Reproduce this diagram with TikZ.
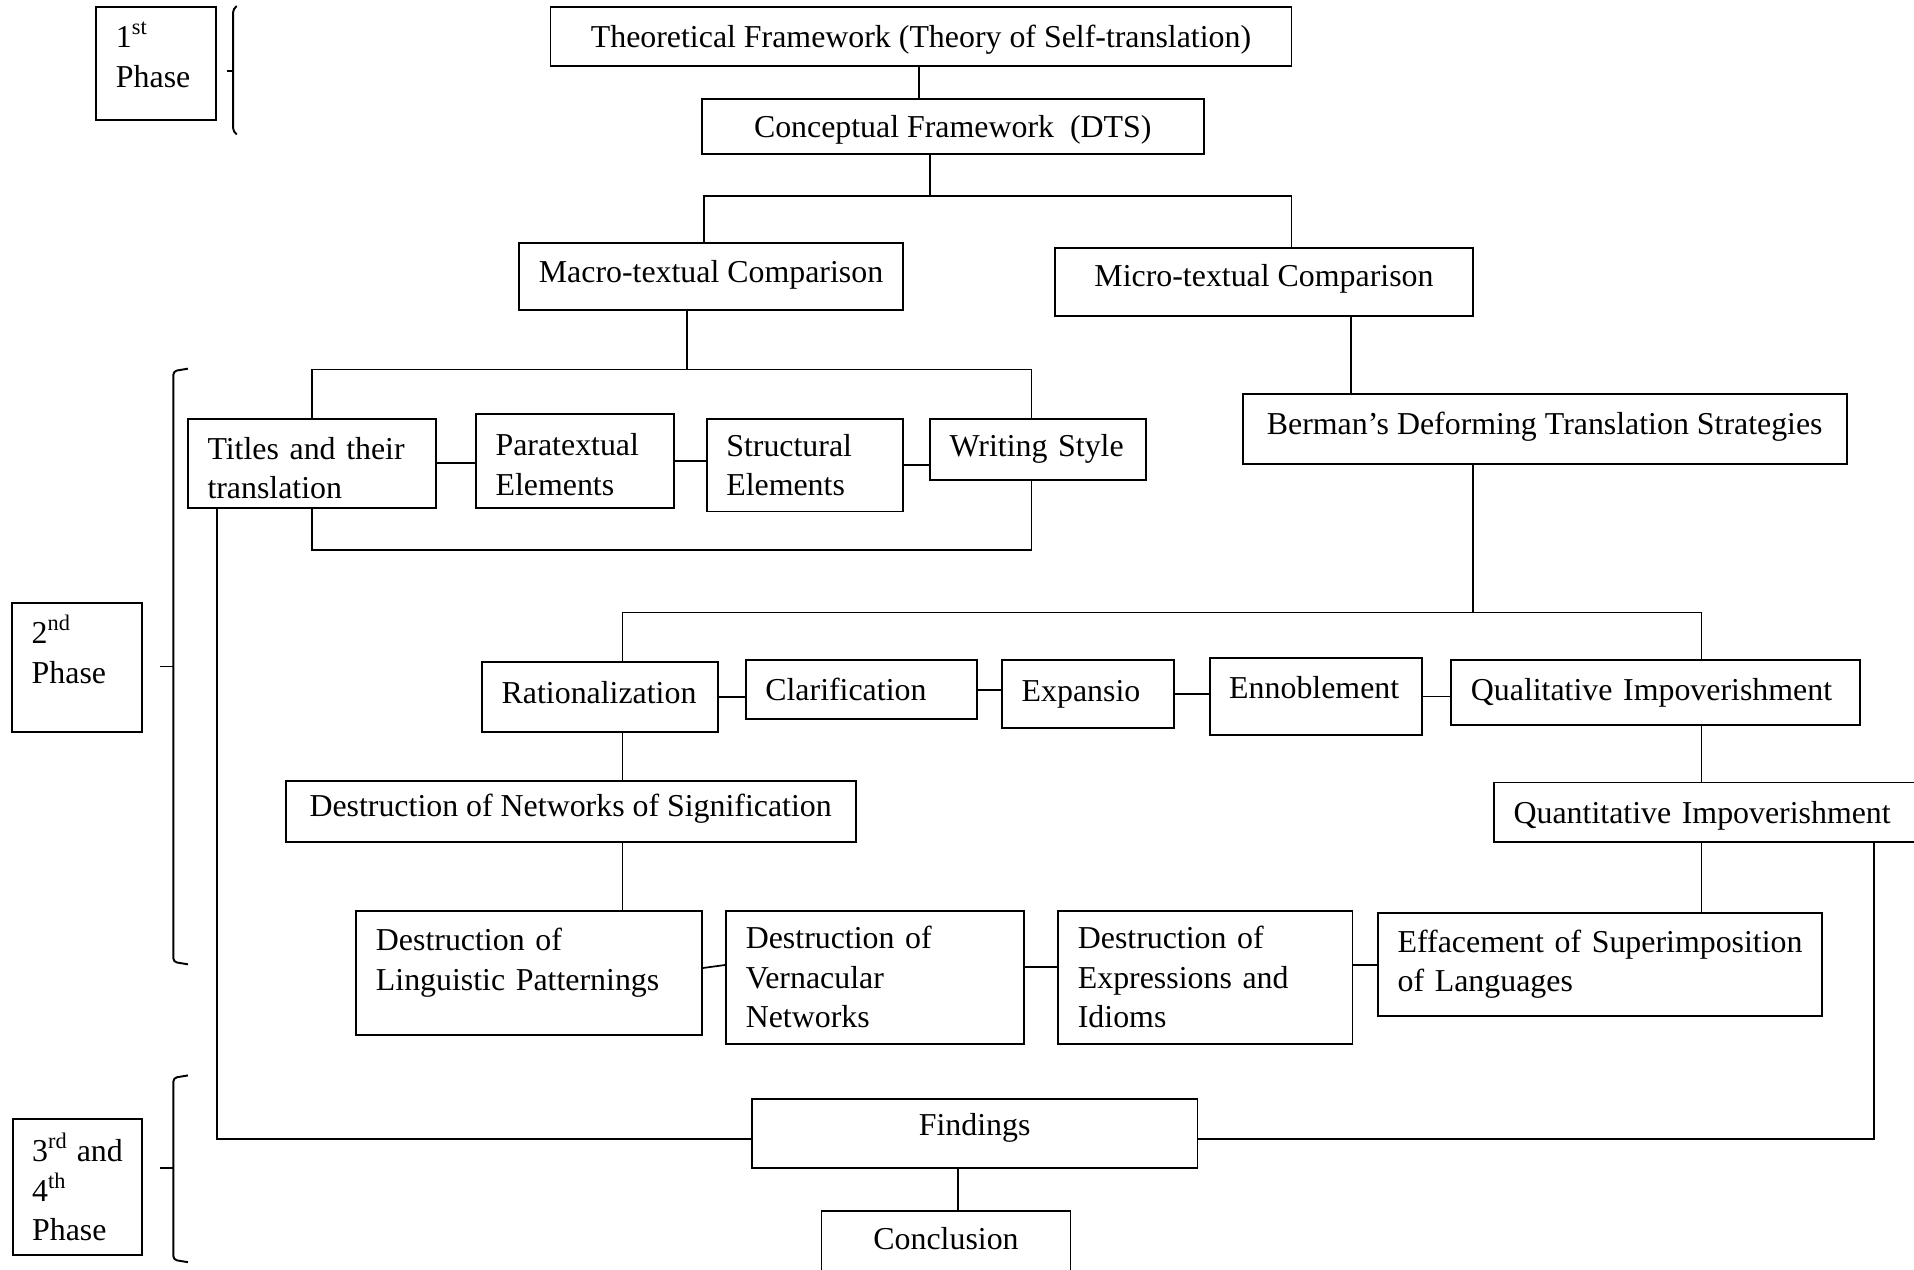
\documentclass[tikz,border=0pt]{standalone}
\usepackage{fontspec}
\setmainfont{Liberation Serif}
\usetikzlibrary{positioning}
\tikzset{
  bx/.style={rectangle, draw=black, line width=0.45pt, inner xsep=1.6mm, inner ysep=0pt, align=left, font=\fontsize{7.43}{9.25}\selectfont},
  bc/.style={bx, align=center},
  lift/.style={text depth=#1},
  sink/.style={text height=#1},
  brk/.style={line width=0.45pt, rounded corners=0.3mm},
  ln/.style={line width=0.4pt}
}
\begin{document}
\begin{tikzpicture}[x=0.1mm, y=-0.1mm]
	\useasboundingbox (0,0) rectangle (1568,1040);
	% phases
	\node[bx, text width=6.6mm, minimum height=9.2mm, lift=4.7mm] (ph1) at (128,52) {1\textsuperscript{st}\\Phase};
	\node[bx, text width=7.4mm, minimum height=10.6mm, lift=6.25mm] (ph2) at (63,547) {2\textsuperscript{nd}\\Phase};
	\node[bx, minimum width=10.6mm, minimum height=11.1mm] (ph3) at (63.5,972.5) {3\textsuperscript{rd} and\\4\textsuperscript{th}\\Phase};
	\draw[brk] (194,5) -- (191,7) -- (191,108) -- (194,110);
	\draw[brk] (191,58) -- (186,58);
	\draw[brk] (154,302) -- (142,304) -- (142,788) -- (154,790);
	\draw[brk] (142,546) -- (131,546);
	\draw[brk] (154,881) -- (142,883) -- (142,1032) -- (154,1034);
	\draw[brk] (142,957) -- (131,957);
	% frameworks
	\node[bc, minimum width=60.7mm, minimum height=4.8mm, sink=2.4mm] (theo) at (754.5,30) {Theoretical Framework (Theory of Self-translation)};
	\node[bc, minimum width=41.1mm, minimum height=4.5mm, sink=2.4mm] (conc) at (780.5,103.5) {Conceptual Framework\ \ (DTS)};
	\node[bc, minimum width=31.5mm, minimum height=5.5mm, lift=0.9mm] (macro) at (582.5,226.5) {Macro-textual Comparison};
	\node[bc, minimum width=34.3mm, minimum height=5.6mm, lift=1mm] (micro) at (1035.5,231) {Micro-textual Comparison};
	% macro level
	\node[bx, text width=17.1mm, minimum height=7.3mm, sink=2.6mm] (titles) at (255.5,379.5) {Titles and their\\translation};
	\node[bx, text width=13mm, minimum height=7.7mm, sink=2.4mm] (para) at (471,377.5) {Paratextual\\Elements};
	\node[bx, text width=12.9mm, minimum height=7.6mm] (struct) at (659.5,381) {Structural\\Elements};
	\node[bx, text width=14.5mm, minimum height=5mm] (writing) at (850.5,368) {Writing Style};
	% micro level
	\node[bc, minimum width=49.5mm, minimum height=5.7mm, lift=1mm] (berman) at (1265.5,351.5) {Berman’s Deforming Translation Strategies};
	\node[bx, text width=16.1mm, minimum height=5.8mm, lift=0.8mm] (ration) at (491.5,571) {Rationalization};
	\node[bx, text width=15.7mm, minimum height=4.8mm] (clar) at (705.5,565) {Clarification};
	\node[bx, text width=10.9mm, minimum height=5.5mm] (exp) at (891.5,568.5) {Expansio};
	\node[bx, text width=14.2mm, minimum height=6.3mm, lift=1.5mm] (ennob) at (1078,570.5) {Ennoblement};
	\node[bx, text width=30.3mm, minimum height=5.3mm] (qual) at (1356.5,567.5) {Qualitative Impoverishment};
	\node[bc, minimum width=46.7mm, minimum height=5mm, lift=1mm] (destnet) at (467.5,665) {Destruction of Networks of Signification};
	\node[bx, text width=32.4mm, minimum height=4.9mm, sink=2.4mm] (quant) at (1402,665.5) {Quantitative Impoverishment};
	\node[bx, text width=25.1mm, minimum height=10.2mm, lift=5.45mm] (dling) at (433.5,797) {Destruction of\\Linguistic Patternings};
	\node[bx, text width=21.2mm, minimum height=10.9mm] (dvern) at (717,800.5) {Destruction of\\Vernacular\\Networks};
	\node[bx, text width=20.9mm, minimum height=10.9mm] (dexp) at (987.5,800.5) {Destruction of\\Expressions and\\Idioms};
	\node[bx, text width=33.2mm, minimum height=8.4mm] (eff) at (1311,790) {Effacement of Superimposition\\of Languages};
	% results
	\node[bc, minimum width=36.5mm, minimum height=5.7mm, lift=1.4mm] (find) at (798.5,928.5) {Findings};
	\node[bc, minimum width=20.4mm, minimum height=5.3mm, lift=0.8mm] (concl) at (775,1018.5) {Conclusion};
	%
	\draw[ln] ([xshift=-0.15mm]theo.south) -- ([xshift=-0.15mm]theo.south |- conc.north);
	\draw[ln] ([xshift=-1.85mm]conc.south) -- ++(0,34) coordinate (t1);
	\draw[ln] ([xshift=-0.55mm]macro.north) |- (t1) -| ([xshift=2.25mm]micro.north);
	\draw[ln] ([xshift=-1.95mm]macro.south) -- ++(0,48) coordinate (t2);
	\draw[ln] (titles.north) |- (t2) -| ([xshift=-0.55mm]writing.north);
	\draw[ln] (titles.east) -- (titles.east -| para.west);
	\draw[ln] (para.east) -- (para.east -| struct.west);
	\draw[ln] (struct.east) -- (struct.east -| writing.west);
	\draw[ln] (titles.south) -- ++(0,34) -| ([xshift=-0.55mm]writing.south);
	\draw[ln] ([xshift=-7.75mm]titles.south) |- ([yshift=-0.45mm]find.west);
	\draw[ln] ([xshift=13.3mm]quant.south) |- ([yshift=-0.45mm]find.east);
	\draw[ln] ([xshift=7.15mm]micro.south) -- ([xshift=7.15mm]micro.south |- berman.north);
	\draw[ln] ([xshift=-5.85mm]berman.south) -- ++(0,121) coordinate (t3);
	\draw[ln] ([xshift=1.85mm]ration.north) |- (t3) -| ([xshift=3.75mm]qual.north);
	\draw[ln] (ration.east) -- (ration.east -| clar.west);
	\draw[ln] (clar.east) -- (clar.east -| exp.west);
	\draw[ln] (exp.east) -- (exp.east -| ennob.west);
	\draw[ln] (ennob.east) -- (ennob.east -| qual.west);
	\draw[ln] ([xshift=1.85mm]ration.south) -- ([xshift=1.85mm]ration.south |- destnet.north);
	\draw[ln] ([xshift=4.25mm]destnet.south) -- ([xshift=4.25mm]destnet.south |- dling.north);
	\draw[ln] ([xshift=3.75mm]qual.south) -- ([xshift=3.75mm]qual.south |- quant.north);
	\draw[ln] ([xshift=-0.8mm]quant.south) -- ([xshift=-0.8mm]quant.south |- eff.north);
	\draw[ln] ([yshift=0.4mm]dling.east) -- ([yshift=1mm]dvern.west);
	\draw[ln] ([yshift=0.85mm]dvern.east) -- ([yshift=0.85mm]dexp.west);
	\draw[ln] ([yshift=1mm]dexp.east) -- ([yshift=1mm]dexp.east -| eff.west);
	\draw[ln] ([xshift=-1.35mm]find.south) -- ([xshift=-1.35mm]find.south |- concl.north);
\end{tikzpicture}
\end{document}
